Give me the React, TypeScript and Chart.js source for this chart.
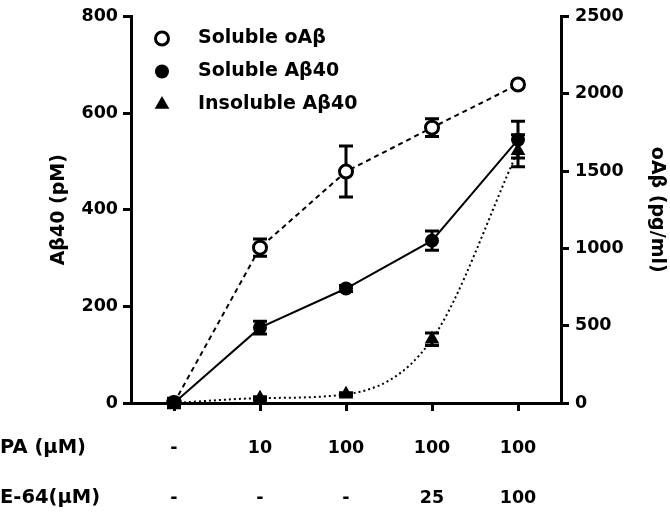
import React, { useEffect, useRef } from 'react';
import { Chart, registerables } from 'chart.js';

Chart.register(...registerables);

// ---- data ----
const paLabels = ['-', '10', '100', '100', '100'];
const e64Labels = ['-', '-', '-', '25', '100'];
const rowTitles = ['PA (\u03BCM)', 'E-64(\u03BCM)'];

const solubleOAb = [0, 1005, 1497, 1781, 2060]; // pg/ml (right axis)
const solubleOAbErr = [20, 55, 165, 58, 20];
const solubleAb40 = [0, 156, 237, 336, 545]; // pM (left axis)
const solubleAb40Err = [10, 13, 6, 20, 38];
const insolubleAb40 = [0, 10, 18, 132, 522]; // pM (left axis)
const insolubleAb40Err = [3, 3, 3, 13, 33];

const legendNames = ['Soluble oA\u03B2', 'Soluble A\u03B240', 'Insoluble A\u03B240'];
const leftTitle = 'A\u03B240 (pM)';
const rightTitle = 'oA\u03B2 (pg/ml)';
const leftMax = 800;
const leftStep = 200;
const rightMax = 2500;
const rightStep = 500;

const FONT = "'DejaVu Sans', sans-serif";

export default function App() {
  const ref = useRef<HTMLCanvasElement>(null);

  useEffect(() => {
    const canvas = ref.current;
    if (!canvas) return;

    const tickFont = { family: FONT, size: 17.5, weight: 'bold' as const };
    const xTickLength = 8;
    const xTickPad = 12;
    const xLineH = 50;

    const errorPlugin = {
      id: 'errorBars',
      beforeDatasetsDraw(chart: any) {
        const c = chart.ctx;
        const xs = chart.scales.x;
        c.save();
        c.strokeStyle = '#000';
        c.lineWidth = 3;
        chart.data.datasets.forEach((ds: any) => {
          const ys = chart.scales[ds.yAxisID];
          ds.data.forEach((v: number, i: number) => {
            const e = ds.errors[i];
            const x = xs.getPixelForValue(i);
            const t = ys.getPixelForValue(v + e);
            const b = ys.getPixelForValue(v - e);
            c.beginPath();
            c.moveTo(x, t);
            c.lineTo(x, b);
            c.moveTo(x - 7, t);
            c.lineTo(x + 7, t);
            c.moveTo(x - 7, b);
            c.lineTo(x + 7, b);
            c.stroke();
          });
        });
        c.restore();
      },
    };

    const drawMarker = (c: CanvasRenderingContext2D, kind: number, x: number, y: number) => {
      c.save();
      c.beginPath();
      if (kind === 0) {
        c.arc(x, y, 6.5, 0, Math.PI * 2);
        c.fillStyle = '#fff';
        c.fill();
        c.lineWidth = 3;
        c.strokeStyle = '#000';
        c.stroke();
      } else if (kind === 1) {
        c.arc(x, y, 7, 0, Math.PI * 2);
        c.fillStyle = '#000';
        c.fill();
      } else {
        const r = 8.5;
        let a = 0;
        c.moveTo(x + Math.sin(a) * r, y - Math.cos(a) * r);
        a += (2 * Math.PI) / 3;
        c.lineTo(x + Math.sin(a) * r, y - Math.cos(a) * r);
        a += (2 * Math.PI) / 3;
        c.lineTo(x + Math.sin(a) * r, y - Math.cos(a) * r);
        c.closePath();
        c.fillStyle = '#000';
        c.fill();
      }
      c.restore();
    };

    const textPlugin = {
      id: 'extraText',
      afterDraw(chart: any) {
        const c = chart.ctx;
        const area = chart.chartArea;
        c.save();
        // legend inside plot
        c.font = `bold 19px ${FONT}`;
        c.fillStyle = '#000';
        c.textBaseline = 'middle';
        c.textAlign = 'left';
        legendNames.forEach((name, i) => {
          const y = area.top + 22 + i * 33;
          drawMarker(c, i, area.left + 31, y);
          c.fillText(name, area.left + 67, y);
        });
        // row titles for the two label rows
        const xs = chart.scales.x;
        c.font = `bold 19.5px ${FONT}`;
        rowTitles.forEach((t, i) => {
          const y = xs.top + xTickLength + xTickPad + xLineH / 2 + i * xLineH;
          c.fillText(t, 0, y);
        });
        c.restore();
      },
    };

    const plainNum = (v: any) => String(v);

    const chart = new Chart(canvas, {
      type: 'line',
      data: {
        labels: paLabels.map((p, i) => [p, e64Labels[i]]),
        datasets: [
          {
            label: legendNames[0],
            data: solubleOAb,
            errors: solubleOAbErr,
            yAxisID: 'y1',
            borderColor: '#000',
            borderWidth: 2,
            borderDash: [5, 4],
            tension: 0,
            pointStyle: 'circle',
            pointRadius: 6.5,
            pointBorderWidth: 3,
            pointBackgroundColor: '#fff',
            pointBorderColor: '#000',
            order: 2,
          } as any,
          {
            label: legendNames[1],
            data: solubleAb40,
            errors: solubleAb40Err,
            yAxisID: 'y',
            borderColor: '#000',
            borderWidth: 2,
            tension: 0,
            pointStyle: 'circle',
            pointRadius: 7,
            pointBorderWidth: 0,
            pointBackgroundColor: '#000',
            pointBorderColor: '#000',
            order: 0,
          } as any,
          {
            label: legendNames[2],
            data: insolubleAb40,
            errors: insolubleAb40Err,
            yAxisID: 'y',
            borderColor: '#000',
            borderWidth: 2,
            borderDash: [2, 3],
            cubicInterpolationMode: 'monotone',
            pointStyle: 'triangle',
            pointRadius: 8.5,
            pointBorderWidth: 0,
            pointBackgroundColor: '#000',
            pointBorderColor: '#000',
            order: 1,
          } as any,
        ],
      },
      options: {
        responsive: false,
        animation: false,
        devicePixelRatio: 1,
        layout: { padding: { top: 11, left: 0, right: 0, bottom: 0 } },
        plugins: {
          legend: { display: false },
          tooltip: { enabled: false },
        },
        scales: {
          x: {
            type: 'category',
            offset: true,
            afterFit: (s: any) => {
              s.height = 111;
            },
            grid: {
              display: true,
              drawOnChartArea: false,
              drawTicks: true,
              tickLength: xTickLength,
              lineWidth: 3,
              color: '#000',
            },
            border: { display: true, width: 3, color: '#000' },
            ticks: {
              autoSkip: false,
              maxRotation: 0,
              minRotation: 0,
              color: '#000',
              padding: xTickPad,
              font: { ...tickFont, lineHeight: `${xLineH}px` },
            },
          },
          y: {
            type: 'linear',
            position: 'left',
            min: 0,
            max: leftMax,
            afterFit: (s: any) => {
              s.width = 131;
            },
            grid: {
              display: true,
              drawOnChartArea: false,
              drawTicks: true,
              tickLength: 8,
              lineWidth: 3,
              color: '#000',
            },
            border: { display: true, width: 3, color: '#000' },
            ticks: {
              stepSize: leftStep,
              color: '#000',
              padding: 5,
              font: tickFont,
              callback: plainNum,
            },
            title: {
              display: true,
              text: leftTitle,
              color: '#000',
              font: { family: FONT, size: 19, weight: 'bold' },
              padding: { top: 48, bottom: 0 },
            },
          },
          y1: {
            type: 'linear',
            position: 'right',
            min: 0,
            max: rightMax,
            afterFit: (s: any) => {
              s.width = 109;
            },
            grid: {
              display: true,
              drawOnChartArea: false,
              drawTicks: true,
              tickLength: 8,
              lineWidth: 3,
              color: '#000',
            },
            border: { display: true, width: 3, color: '#000' },
            ticks: {
              stepSize: rightStep,
              color: '#000',
              padding: 6,
              font: tickFont,
              callback: plainNum,
            },
            title: {
              display: true,
              text: rightTitle,
              color: '#000',
              font: { family: FONT, size: 19, weight: 'bold' },
              padding: { top: 2, bottom: 0 },
            },
          },
        },
      } as any,
      plugins: [errorPlugin, textPlugin],
    });

    return () => {
      chart.destroy();
    };
  }, []);

  return (
    <div style={{ position: 'absolute', left: 0, top: 0, width: 670, height: 514, background: '#fff' }}>
      <canvas ref={ref} width={670} height={514} style={{ display: 'block', width: 670, height: 514 }} />
    </div>
  );
}
